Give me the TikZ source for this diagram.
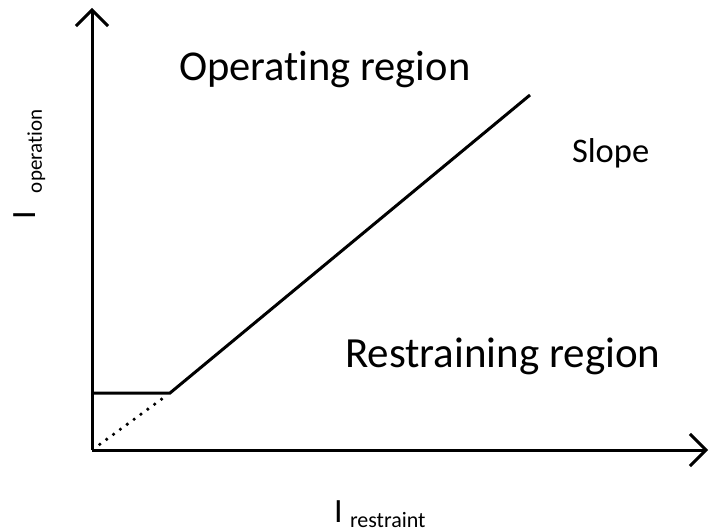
\documentclass[tikz,border=0pt]{standalone}
\usepackage{fontspec}
\setmainfont{Carlito}[Ligatures=NoCommon]
\usetikzlibrary{arrows.meta,calc}
\begin{document}
\begin{tikzpicture}[x=1pt,y=1pt,
  axis/.style={line width=3pt,-{Straight Barb[length=16pt,width=32pt]}},
  curve/.style={line width=3pt,line join=miter},
  guide/.style={line width=3.6pt,line cap=round,dash pattern=on 0pt off 8.5pt},
  lbl/.style={inner sep=0pt,outer sep=0pt,anchor=base west}]
\useasboundingbox (0,0) rectangle (709,531);
% axes
\coordinate (o) at (92,81);
\coordinate (ytip) at (92,523);
\coordinate (xtip) at (708,81);
\draw[axis] (o) -- (ytip);
\draw[axis] (o) -- (xtip);
% characteristic: pick-up level, then the restraint slope
\coordinate (pick) at (92,138);
\coordinate (knee) at (170,138);
\coordinate (top) at (530,436);
\draw[curve] (pick) -- (knee) -- (top);
\draw[guide] ($(o)!0.1!(knee)$) -- ($(o)!0.92!(knee)$);
% region labels
\node[lbl] (op) at (179,450) {\fontsize{42.5}{44}\selectfont Operating region};
\node[lbl] (rs) at (345,164) {\fontsize{43}{45}\selectfont Restraining region};
\node[lbl] (sl) at (572,368) {\fontsize{34.5}{36}\selectfont Slope};
% axis labels
\node[lbl] (xi) at (334,9) {\fontsize{34}{36}\selectfont I};
\node[lbl] (xs) at (350,4) {\fontsize{22}{24}\selectfont restraint};
\node[lbl,rotate=90] (yi) at (35,312) {\fontsize{34}{36}\selectfont I};
\node[lbl,rotate=90] (ys) at (42,338) {\fontsize{21}{23}\selectfont operation};
\end{tikzpicture}
\end{document}
